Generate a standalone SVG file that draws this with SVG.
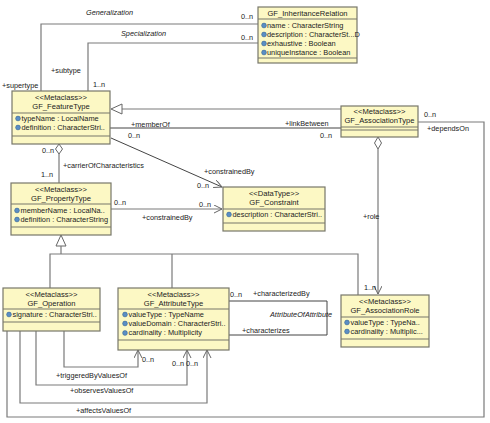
<svg xmlns="http://www.w3.org/2000/svg" width="490" height="423" viewBox="0 0 490 423">
<style>
.box{fill:#fcf8c4;stroke:#77776a;stroke-width:1.2}
.sep{stroke:#77776a;stroke-width:1}
.c{fill:none;stroke:#7a7a7a;stroke-width:1.2}
.cd{fill:none;stroke:#444;stroke-width:1}
text{font-family:"Liberation Sans",Arial,sans-serif;font-size:7.3px;fill:#222}
.h{text-anchor:middle;font-size:7.6px}
.a{font-size:7.4px}
.i{font-style:italic}
</style>
<defs>
<marker id="open" markerWidth="10" markerHeight="10" refX="8" refY="4" orient="auto" markerUnits="userSpaceOnUse">
<path d="M0,0 L8,4 L0,8" fill="none" stroke="#666" stroke-width="1"/>
</marker>
<symbol id="ic" viewBox="0 0 6 6" overflow="visible">
<circle cx="3" cy="3" r="2.4" fill="#5b8ec4" stroke="#2d5a8a" stroke-width="0.5"/>
</symbol>
</defs>
<rect width="490" height="423" fill="#fff"/>
<g id="connectors">
<polyline class="c" points="41,91 41,24 258,24"/>
<polyline class="c" points="88,91 88,43 258,43"/>
<line class="c" x1="341" y1="109" x2="122" y2="109"/>
<polygon points="111,109 122,104 122,114" fill="#fff" stroke="#666" stroke-width="1"/>
<line class="cd" x1="110" y1="128" x2="341" y2="128"/>
<polyline class="c" points="418,122 484,122 484,417 7,417 7,331"/>
<polygon points="378,137 381.5,143 378,149 374.5,143" fill="#fff" stroke="#666" stroke-width="1"/>
<line class="c" x1="378" y1="149" x2="378" y2="294" marker-end="url(#open)"/>
<polygon points="59,144 62.5,149 59,154 55.5,149" fill="#fff" stroke="#666" stroke-width="1"/>
<line class="c" x1="59" y1="154" x2="59" y2="183"/>
<line class="cd" x1="111" y1="138" x2="222" y2="187" marker-end="url(#open)"/>
<line class="c" x1="111" y1="209" x2="222" y2="209" marker-end="url(#open)"/>
<polygon points="61,235 66,246 56,246" fill="#fff" stroke="#666" stroke-width="1"/>
<line class="c" x1="61" y1="246" x2="61" y2="254"/>
<polyline class="c" points="50,288 50,254 358,254 358,295"/>
<line class="c" x1="172" y1="254" x2="172" y2="288"/>
<polyline class="c" points="64,331 64,367 138,367 138,350" marker-end="url(#open)"/>
<polyline class="c" points="36,331 36,385 187,385 187,350" marker-end="url(#open)"/>
<polyline class="c" points="20,331 20,403 207,403 207,350" marker-end="url(#open)"/>
<polyline class="cd" points="229,301 327,301 327,335 229,335"/>
</g>
<g id="labels">
<text x="86" y="14.5" class="i">Generalization</text>
<text x="121" y="35.5" class="i">Specialization</text>
<text x="241" y="19">0..n</text>
<text x="241" y="40">0..n</text>
<text x="51" y="72.5">+subtype</text>
<text x="2" y="87.5">+supertype</text>
<text x="93" y="86.5">1..n</text>
<text x="131" y="126.5">+memberOf</text>
<text x="128" y="137.5">0..n</text>
<text x="285" y="125.5">+linkBetween</text>
<text x="320" y="137.5">0..n</text>
<text x="424" y="116.5">0..n</text>
<text x="427" y="130.5">+dependsOn</text>
<text x="42" y="152.5">0..n</text>
<text x="63" y="167.5">+carrierOfCharacteristics</text>
<text x="41" y="176.5">1..n</text>
<text x="204" y="173.5">+constrainedBy</text>
<text x="197" y="187.5">0..n</text>
<text x="114" y="204.5">0..n</text>
<text x="199" y="206.5">0..n</text>
<text x="142" y="219.5">+constrainedBy</text>
<text x="363" y="218.5">+role</text>
<text x="364" y="289.5">1..n</text>
<text x="230" y="296.5">0..n</text>
<text x="253" y="295.5">+characterizedBy</text>
<text x="270" y="316.5" class="i">AttributeOfAttribute</text>
<text x="242" y="332.5">+characterizes</text>
<text x="142" y="361.5">0..n</text>
<text x="172" y="365.5">0..n</text>
<text x="186" y="365.5">0..n</text>
<text x="56" y="377.5">+triggeredByValuesOf</text>
<text x="70" y="392.5">+observesValuesOf</text>
<text x="76" y="412.5">+affectsValuesOf</text>
</g>
<g id="GF_InheritanceRelation">
<rect class="box" x="258" y="7" width="99" height="56"/>
<line class="sep" x1="258" y1="19" x2="357" y2="19"/>
<line class="sep" x1="258" y1="58" x2="357" y2="58"/>
<text x="307.5" y="16" class="h">GF_InheritanceRelation</text>
<use href="#ic" x="261" y="22.5" width="6" height="6"/><text x="267" y="27.5" class="a">name : CharacterString</text>
<use href="#ic" x="261" y="31.5" width="6" height="6"/><text x="267" y="36.5" class="a">description : CharacterSt...D</text>
<use href="#ic" x="261" y="40.5" width="6" height="6"/><text x="267" y="45.5" class="a">exhaustive : Boolean</text>
<use href="#ic" x="261" y="49.5" width="6" height="6"/><text x="267" y="54.5" class="a">uniqueInstance : Boolean</text>
</g>
<g id="GF_FeatureType">
<rect class="box" x="12" y="91" width="98" height="53"/>
<line class="sep" x1="12" y1="113" x2="110" y2="113"/>
<line class="sep" x1="12" y1="136" x2="110" y2="136"/>
<text x="61" y="99.5" class="h">&lt;&lt;Metaclass&gt;&gt;</text>
<text x="61" y="108.5" class="h">GF_FeatureType</text>
<use href="#ic" x="15" y="115.5" width="6" height="6"/><text x="21.5" y="120.5" class="a">typeName : LocalName</text>
<use href="#ic" x="15" y="124.5" width="6" height="6"/><text x="21.5" y="129.5" class="a">definition : CharacterStri..</text>
</g>
<g id="GF_AssociationType">
<rect class="box" x="341" y="106" width="77" height="31"/>
<line class="sep" x1="341" y1="127" x2="418" y2="127"/>
<line class="sep" x1="341" y1="130" x2="418" y2="130"/>
<text x="379.5" y="113.5" class="h">&lt;&lt;Metaclass&gt;&gt;</text>
<text x="379.5" y="123" class="h">GF_AssociationType</text>
</g>
<g id="GF_PropertyType">
<rect class="box" x="11" y="183" width="100" height="52"/>
<line class="sep" x1="11" y1="204" x2="111" y2="204"/>
<line class="sep" x1="11" y1="227" x2="111" y2="227"/>
<text x="61" y="191.5" class="h">&lt;&lt;Metaclass&gt;&gt;</text>
<text x="61" y="201" class="h">GF_PropertyType</text>
<use href="#ic" x="14" y="207.5" width="6" height="6"/><text x="20.5" y="212.5" class="a">memberName : LocalNa..</text>
<use href="#ic" x="14" y="216.5" width="6" height="6"/><text x="20.5" y="221.5" class="a">definition : CharacterString</text>
</g>
<g id="GF_Constraint">
<rect class="box" x="223" y="187" width="102" height="44"/>
<line class="sep" x1="223" y1="209" x2="325" y2="209"/>
<line class="sep" x1="223" y1="223" x2="325" y2="223"/>
<text x="274" y="195.5" class="h">&lt;&lt;DataType&gt;&gt;</text>
<text x="274" y="205" class="h">GF_Constraint</text>
<use href="#ic" x="226" y="211.5" width="6" height="6"/><text x="232.5" y="216.5" class="a">description : CharacterStri..</text>
</g>
<g id="GF_Operation">
<rect class="box" x="3" y="288" width="97" height="43"/>
<line class="sep" x1="3" y1="309" x2="100" y2="309"/>
<line class="sep" x1="3" y1="322" x2="100" y2="322"/>
<text x="51.5" y="296.5" class="h">&lt;&lt;Metaclass&gt;&gt;</text>
<text x="51.5" y="306" class="h">GF_Operation</text>
<use href="#ic" x="6" y="311.5" width="6" height="6"/><text x="12.5" y="316.5" class="a">signature : CharacterStri..</text>
</g>
<g id="GF_AttributeType">
<rect class="box" x="118" y="288" width="111" height="62"/>
<line class="sep" x1="118" y1="309" x2="229" y2="309"/>
<line class="sep" x1="118" y1="340" x2="229" y2="340"/>
<text x="173.5" y="296.5" class="h">&lt;&lt;Metaclass&gt;&gt;</text>
<text x="173.5" y="306" class="h">GF_AttributeType</text>
<use href="#ic" x="122" y="311.5" width="6" height="6"/><text x="128.5" y="316.5" class="a">valueType : TypeName</text>
<use href="#ic" x="122" y="320.5" width="6" height="6"/><text x="128.5" y="325.5" class="a">valueDomain : CharacterStri..</text>
<use href="#ic" x="122" y="330" width="6" height="6"/><text x="128.5" y="335" class="a">cardinality : Multiplicity</text>
</g>
<g id="GF_AssociationRole">
<rect class="box" x="341" y="295" width="88" height="52"/>
<line class="sep" x1="341" y1="317" x2="429" y2="317"/>
<line class="sep" x1="341" y1="339" x2="429" y2="339"/>
<text x="385" y="303.5" class="h">&lt;&lt;Metaclass&gt;&gt;</text>
<text x="385" y="313" class="h">GF_AssociationRole</text>
<use href="#ic" x="344" y="319.5" width="6" height="6"/><text x="350.5" y="324.5" class="a">valueType : TypeNa..</text>
<use href="#ic" x="344" y="328.5" width="6" height="6"/><text x="350.5" y="333.5" class="a">cardinality : Multiplic...</text>
</g>
</svg>
